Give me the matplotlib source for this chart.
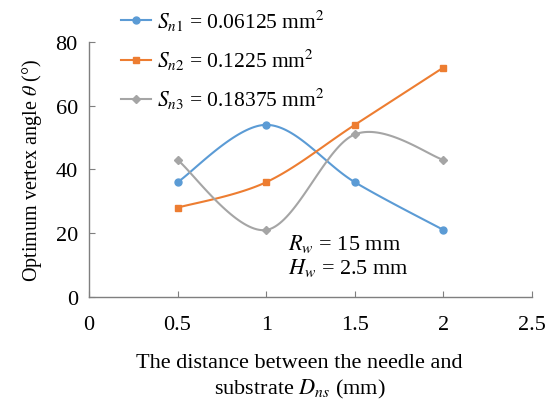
import matplotlib
matplotlib.use('Agg')
import matplotlib.pyplot as plt
import numpy as np

plt.rcParams['font.family'] = ['Liberation Serif', 'DejaVu Serif']
plt.rcParams['mathtext.fontset'] = 'stix'

# ─── data ─────────────────────────────────────────────────────────────────────
dns = [0.5, 1.0, 1.5, 2.0]
theta_sn1 = [36, 54, 36, 21]
theta_sn2 = [28, 36, 54, 72]
theta_sn3 = [43, 21, 51, 43]
labels = [r'$S_{n1}$ = 0.06125 mm$^2$',
          r'$S_{n2}$ = 0.1225 mm$^2$',
          r'$S_{n3}$ = 0.18375 mm$^2$']
colors = ['#5B9BD5', '#ED7D31', '#A5A5A5']
markers = ['o', 's', 'D']


def smooth(x, y, n=40):
    # Excel-like smoothed line (Catmull-Rom / cubic Bezier)
    x = np.asarray(x, float)
    y = np.asarray(y, float)
    px = np.concatenate([[x[0]], x, [x[-1]]])
    py = np.concatenate([[y[0]], y, [y[-1]]])
    t = np.linspace(0, 1, n)
    xs, ys = [], []
    for i in range(1, len(px) - 2):
        p0 = np.array([px[i], py[i]])
        p3 = np.array([px[i + 1], py[i + 1]])
        c1 = p0 + (p3 - np.array([px[i - 1], py[i - 1]])) / 6
        c2 = p3 - (np.array([px[i + 2], py[i + 2]]) - p0) / 6
        b = ((1 - t) ** 3)[:, None] * p0 + (3 * (1 - t) ** 2 * t)[:, None] * c1 \
            + (3 * (1 - t) * t ** 2)[:, None] * c2 + (t ** 3)[:, None] * p3
        xs.append(b[:, 0])
        ys.append(b[:, 1])
    return np.concatenate(xs), np.concatenate(ys)


fig = plt.figure(figsize=(5.52, 4.02), dpi=100)
ax = fig.add_axes([0.161, 0.259, 0.803, 0.634])

handles = []
for yv, c, m, lab in zip([theta_sn1, theta_sn2, theta_sn3], colors, markers, labels):
    ms = 5 if m != 'D' else 4.5
    sx, sy = smooth(dns, yv)
    ax.plot(sx, sy, color=c, lw=1.5, zorder=2)
    ax.plot(dns, yv, linestyle='none', marker=m, color=c, markersize=ms, zorder=3)
    h, = ax.plot([], [], color=c, lw=1.5, marker=m, markersize=ms, label=lab)
    handles.append(h)

ax.set_xlim(0, 2.5)
ax.set_ylim(0, 80)
ax.set_xticks([0, 0.5, 1, 1.5, 2, 2.5])
ax.set_xticklabels(['0', '0.5', '1', '1.5', '2', '2.5'])
ax.set_yticks([0, 20, 40, 60, 80])
for s in ['top', 'right']:
    ax.spines[s].set_visible(False)
for s in ['left', 'bottom']:
    ax.spines[s].set_color('#7f7f7f')
    ax.spines[s].set_linewidth(1.0)
ax.tick_params(direction='in', length=4, color='#7f7f7f', labelsize=16)
ax.tick_params(axis='x', pad=13)
ax.tick_params(axis='y', pad=8)

ax.set_ylabel(r'Optimum vertex angle $\theta$ (°)', fontsize=14.5, labelpad=8)
fig.text(0.543, 0.062, 'The distance between the needle and\nsubstrate $D_{ns}$ (mm)',
         ha='center', va='center', fontsize=16, linespacing=1.3)

ax.text(1.123, 15.0, r'$R_w$ = 15 mm', fontsize=16, va='baseline')
ax.text(1.123, 7.6, r'$H_w$ = 2.5 mm', fontsize=16, va='baseline')

fig.legend(handles=handles, loc='upper left', bbox_to_anchor=(0.195, 1.01),
           frameon=False, fontsize=15.5, handlelength=1.4, handletextpad=0.3,
           labelspacing=0.65, borderaxespad=0.2)

plt.savefig('out.png', dpi=100)
